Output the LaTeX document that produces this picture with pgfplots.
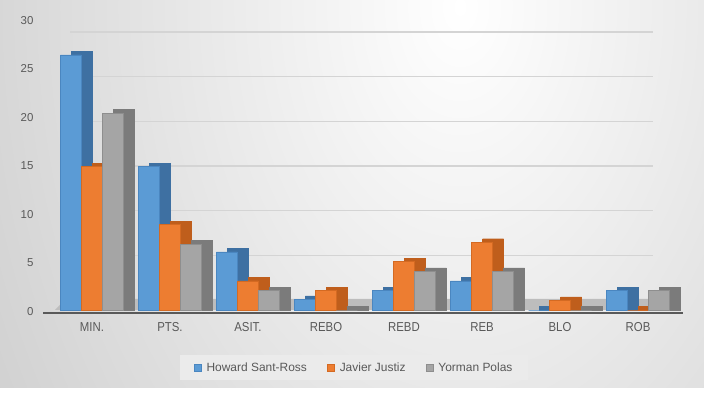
\documentclass[border=0pt]{standalone}
\usepackage{fontspec}
\setmainfont{Liberation Sans}
\newfontfamily\lbl[FakeStretch=0.88]{Liberation Sans}
\usepackage{pgfplots}
\pgfplotsset{compat=1.18}
\usepackage{pgfplotstable}
\definecolor{cB}{HTML}{5B9BD5}\definecolor{cBd}{HTML}{3E70A2}\definecolor{cBe}{HTML}{4A86C0}
\definecolor{cO}{HTML}{ED7D31}\definecolor{cOd}{HTML}{BF5E1C}\definecolor{cOe}{HTML}{D46A22}
\definecolor{cG}{HTML}{A5A5A5}\definecolor{cGd}{HTML}{7B7B7B}\definecolor{cGe}{HTML}{8E8E8E}
\definecolor{txt}{HTML}{595959}
\pgfplotstableread{
x cat h j y
0 MIN. 26.3 14.8 20.3
1 PTS. 14.8 8.8 6.8
2 ASIT. 6.0 3.0 2.0
3 REBO 1.1 2.0 0
4 REBD 2.0 5.0 4.0
5 REB 3.0 7.0 4.0
6 BLO 0 1.0 0
7 ROB 2.0 0 2.0
}\datatable
\pgfplotsset{sq/.style={legend image code/.code={\draw[##1] (0bp,-3.8bp) rectangle (7.5bp,3.8bp);}}}
\begin{document}
\begin{tikzpicture}
\path[use as bounding box] (0bp,0bp) rectangle (704bp,397bp);
\fill[white] (0bp,0bp) rectangle (704bp,397bp);
\begin{scope}
\clip (0bp,9bp) rectangle (704bp,397bp);
\fill[black!23] (0bp,9bp) rectangle (704bp,397bp);
\shade[inner color=white, outer color=black!23] (460bp,390bp) ellipse (680bp and 1000bp);
\end{scope}
% back wall gridlines
\begin{axis}[at={(70bp,97bp)}, anchor=south west, scale only axis,
  width=583bp, height=268bp, xmin=0, xmax=1, ymin=0, ymax=30,
  ytick={0,5,...,30}, xtick=\empty, yticklabels={},
  ymajorgrids, grid style={black!17, line width=1.2bp},
  axis line style={draw=none}, major tick length=0pt]
\end{axis}
% floor
\fill[black!26] (55bp,87bp) -- (681bp,87bp) -- (672bp,98bp) -- (66bp,98bp) -- cycle;
\draw[txt, line width=1.3bp] (43bp,84bp) -- (683bp,84bp);
\begin{axis}[at={(43bp,87bp)}, anchor=south west, scale only axis,
  width=640bp, height=291bp,
  xmin=-0.628, xmax=7.577, ymin=0, ymax=30,
  ytick={0,5,...,30}, xtick={0,...,7},
  xticklabels={MIN.,PTS.,ASIT.,REBO,REBD,REB,BLO,ROB},
  axis line style={draw=none}, major tick length=0pt,
  ticklabel style={text=txt},
  yticklabel style={font=\fontsize{11.5}{12}\selectfont, xshift=-6bp, yshift=-1.5bp},
  xticklabel style={font=\lbl\fontsize{13}{14}\selectfont, yshift=-9bp},
  /pgf/number format/assume math mode=true,
  ybar, bar width=21bp, clip=false,
  legend columns=3,
  legend style={at={(0.486,-0.1976)}, anchor=center, fill=black!8, draw=none,
    font=\fontsize{12}{13}\selectfont, text=txt,
    inner xsep=14bp, inner ysep=5bp,
    /tikz/every odd column/.append style={column sep=3bp},
    /tikz/every even column/.append style={column sep=18bp}},
]
% depth (side/top) faces
\addplot[forget plot, fill=cBd, draw=cBd, bar shift=-10bp] table[x=x, y expr=\thisrow{h}+0.35] {\datatable};
\addplot[forget plot, fill=cOd, draw=cOd, bar shift=11bp] table[x=x, y expr=\thisrow{j}+0.35] {\datatable};
\addplot[forget plot, fill=cGd, draw=cGd, bar shift=32bp] table[x=x, y expr=\thisrow{y}+0.35] {\datatable};
% front faces
\addplot[sq, fill=cB, draw=cBe, bar shift=-21bp] table[x=x, y=h] {\datatable};
\addplot[sq, fill=cO, draw=cOe, bar shift=0bp] table[x=x, y=j] {\datatable};
\addplot[sq, fill=cG, draw=cGe, bar shift=21bp] table[x=x, y=y] {\datatable};
\legend{Howard Sant-Ross, Javier Justiz, Yorman Polas}
\end{axis}
\end{tikzpicture}
\end{document}
